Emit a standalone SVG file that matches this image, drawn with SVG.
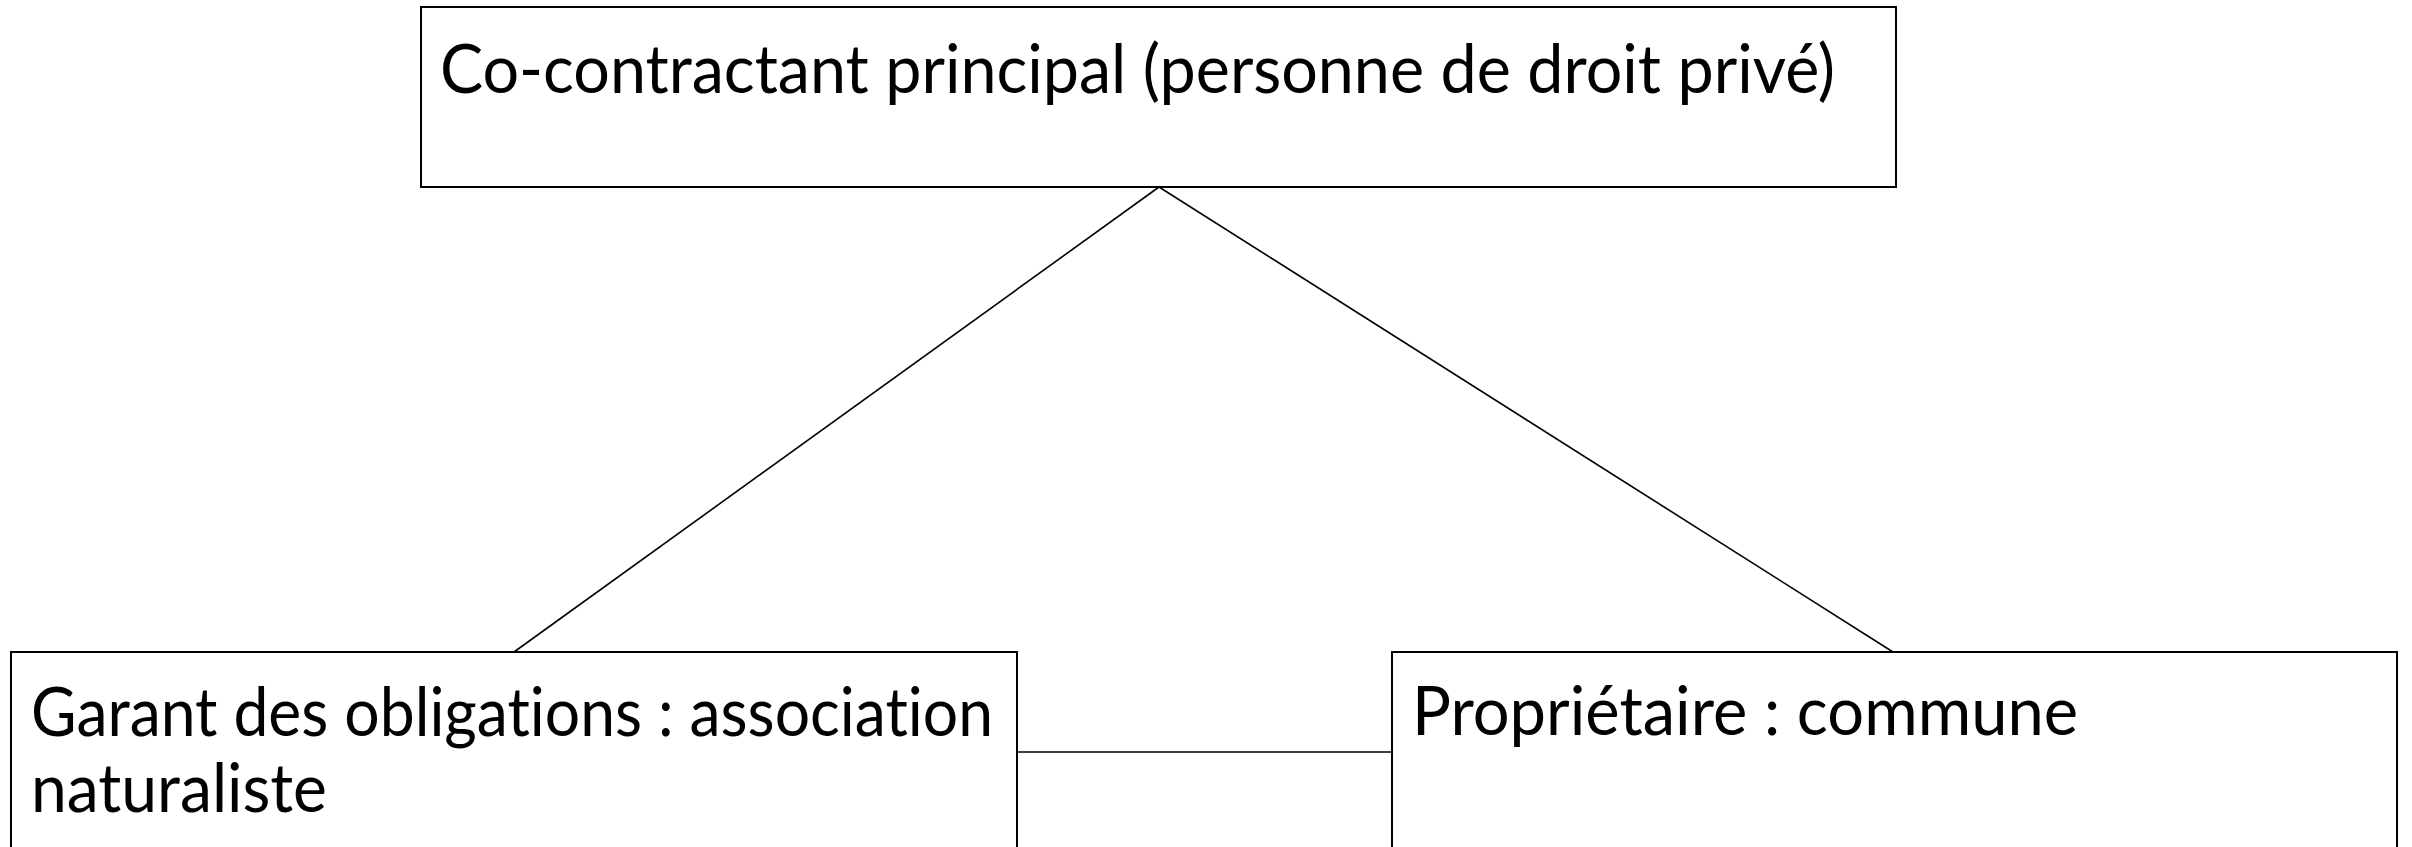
<svg xmlns="http://www.w3.org/2000/svg" width="2412" height="847" viewBox="0 0 2412 847">
<style>
.box{fill:#ffffff;stroke:#000000;stroke-width:2}
.conn{stroke:#000000;stroke-width:1.6;fill:none}
.lbl{font-family:Lato,"Open Sans","Liberation Sans",sans-serif;font-size:68px;fill:#000000;font-variant-ligatures:none;font-feature-settings:"liga" 0,"clig" 0,"dlig" 0}
</style>
<rect x="0" y="0" width="2412" height="847" fill="#ffffff"/>
<g id="connectors">
<line class="conn" x1="1159" y1="187" x2="514" y2="652"/>
<line class="conn" x1="1159" y1="187" x2="1893" y2="652"/>
<line class="conn" x1="1017" y1="752" x2="1392" y2="752"/>
</g>
<g id="node-cocontractant">
<rect class="box" x="421" y="7" width="1475" height="180"/>
<text class="lbl" x="440" y="93" textLength="1395" lengthAdjust="spacingAndGlyphs">Co-contractant principal (personne de droit privé)</text>
</g>
<g id="node-garant">
<rect class="box" x="11" y="652" width="1006" height="230"/>
<text class="lbl" x="31" y="736" textLength="962" lengthAdjust="spacingAndGlyphs">Garant des obligations : association</text>
<text class="lbl" x="31" y="812" textLength="296" lengthAdjust="spacingAndGlyphs">naturaliste</text>
</g>
<g id="node-proprietaire">
<rect class="box" x="1392" y="652" width="1005" height="230"/>
<text class="lbl" x="1412" y="735" textLength="666" lengthAdjust="spacingAndGlyphs">Propriétaire : commune</text>
</g>
</svg>
